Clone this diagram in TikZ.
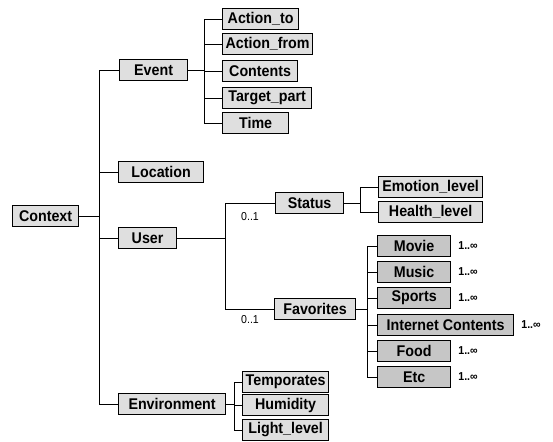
\documentclass[tikz,border=0pt]{standalone}
\usepackage{fontspec}
\newfontfamily\boxfont[FakeStretch=0.92]{Liberation Sans}
\usetikzlibrary{positioning}
\tikzset{
  box/.style={draw, line width=1.2pt, fill=gray!25, minimum height=21pt, inner sep=2pt,
    anchor=west, font=\boxfont\bfseries\fontsize{15.5}{15.5}\selectfont},
  darkbox/.style={box, fill=gray!45},
  link/.style={line width=0.9pt},
  mult/.style={font=\boxfont\fontsize{11.5}{11.5}\selectfont, inner sep=1pt},
  multinf/.style={mult, font=\boxfont\bfseries\fontsize{11.5}{11.5}\selectfont}
}
\begin{document}
\begin{tikzpicture}[x=1pt,y=-1pt]
\useasboundingbox (0,0) rectangle (553,441);
  % Draw first level
  \node[box, minimum width=66] (context) at (12,216) {Context};
  \node[box, minimum width=68] (event) at (119,70) {Event};
  \node[box, minimum width=85] (location) at (118,172) {Location};
  \node[box, minimum width=58] (user) at (118,238) {User};
  \node[box, minimum width=107] (environment) at (118,404) {Environment};
  % Draw event parts
  \node[box, minimum width=76] (actto) at (222,19) {Action\_to};
  \node[box, minimum width=90] (actfrom) at (222,44) {Action\_from};
  \node[box, minimum width=75] (contents) at (222,71) {Contents};
  \node[box, minimum width=89] (target) at (222,98) {Target\_part};
  \node[box, minimum width=66] (time) at (222,123) {Time};
  % Draw user parts
  \node[box, minimum width=68] (status) at (275,203) {Status};
  \node[box, minimum width=81] (favorites) at (274,309) {Favorites};
  \node[box, minimum width=104] (emotion) at (378,187) {Emotion\_level};
  \node[box, minimum width=104] (health) at (378,212) {Health\_level};
  \node[darkbox, minimum width=73] (movie) at (377,246) {Movie};
  \node[darkbox, minimum width=73] (music) at (377,272) {Music};
  \node[darkbox, minimum width=73] (sports) at (377,298) {Sports};
  \node[darkbox, minimum width=136] (internet) at (377,325) {Internet Contents};
  \node[darkbox, minimum width=73] (food) at (377,351) {Food};
  \node[darkbox, minimum width=73] (etc) at (377,377) {Etc};
  % Draw environment parts
  \node[box, minimum width=86] (temp) at (242,382) {Temporates};
  \node[box, minimum width=86] (humidity) at (242,405) {Humidity};
  \node[box, minimum width=86] (light) at (242,430) {Light\_level};
  % Draw connectors
  \coordinate (ctxbus) at (99,216);
  \draw[link] (context) -- (ctxbus);
  \foreach \n in {event,location,user,environment}
    \draw[link] (ctxbus) |- (\n.west);
  \coordinate (evbus) at (204,70);
  \draw[link] (event) -- (evbus);
  \foreach \n in {actto,actfrom,contents,target,time}
    \draw[link] (evbus) |- (\n.west);
  \coordinate (usrbus) at (225,238);
  \draw[link] (user) -- (usrbus);
  \foreach \n in {status,favorites}
    \draw[link] (usrbus) |- (\n.west);
  \coordinate (stbus) at (360,203);
  \draw[link] (status) -- (stbus);
  \foreach \n in {emotion,health}
    \draw[link] (stbus) |- (\n.west);
  \coordinate (favbus) at (367,309);
  \draw[link] (favorites) -- (favbus);
  \foreach \n in {movie,music,sports,internet,food,etc}
    \draw[link] (favbus) |- (\n.west);
  \coordinate (envbus) at (234,404);
  \draw[link] (environment) -- (envbus);
  \foreach \n in {temp,humidity,light}
    \draw[link] (envbus) |- (\n.west);
  % Draw multiplicity labels
  \node[mult] (stmult) at (250,217) {0..1};
  \node[mult] (favmult) at (250,320) {0..1};
  \foreach \n in {movie,music,sports,internet,food,etc}
    \node[multinf, anchor=west, right=6pt of \n] (\n mult) {1..∞};
\end{tikzpicture}
\end{document}
